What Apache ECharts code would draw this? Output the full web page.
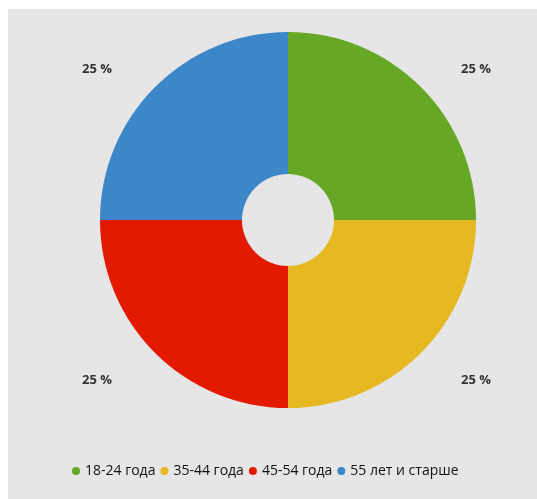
<!DOCTYPE html>
<html><head><meta charset="utf-8">
<script src="https://cdn.jsdelivr.net/npm/echarts@6/dist/echarts.min.js"></script>
<style>
html,body{margin:0;padding:0;background:#fff;width:537px;height:499px;overflow:hidden;}
#c{position:absolute;left:8px;top:9px;width:529px;height:490px;background:#e6e6e6;}
</style></head><body>
<div id="c"></div>
<script>
const categories = ['18-24 года', '35-44 года', '45-54 года', '55 лет и старше'];
const values = [25, 25, 25, 25];
const colors = ['#66a825', '#e6b822', '#e31a00', '#3d87c8'];
const leftSide = [false, false, true, true];

const chart = echarts.init(document.getElementById('c'), null, {renderer: 'canvas'});
chart.setOption({
  backgroundColor: '#e6e6e6',
  animation: false,
  legend: {
    bottom: 16,
    left: 59,
    icon: 'circle',
    itemWidth: 8,
    itemHeight: 8,
    itemGap: 5,
    textStyle: {fontFamily: 'Open Sans', fontSize: 14, color: '#111'},
    data: categories
  },
  series: [{
    type: 'pie',
    center: [280, 211],
    radius: [46, 188],
    startAngle: 90,
    clockwise: true,
    avoidLabelOverlap: false,
    data: categories.map((c, i) => ({
      name: c, value: values[i],
      itemStyle: {color: colors[i]},
      label: leftSide[i] ? {padding: [0, 0, 0, 28]} : {}
    })),
    label: {
      show: true,
      position: 'outside',
      alignTo: 'edge',
      edgeDistance: 46,
      formatter: p => '{g| }\n{v|' + p.percent + ' %}',
      rich: {
        g: {height: 10, lineHeight: 10, fontSize: 8},
        v: {fontFamily: 'Open Sans', fontWeight: 'bold', fontSize: 13, lineHeight: 16, color: '#333'}
      }
    },
    labelLine: {show: false, length: 32, length2: 0},
    emphasis: {disabled: true}
  }]
});
</script></body></html>
